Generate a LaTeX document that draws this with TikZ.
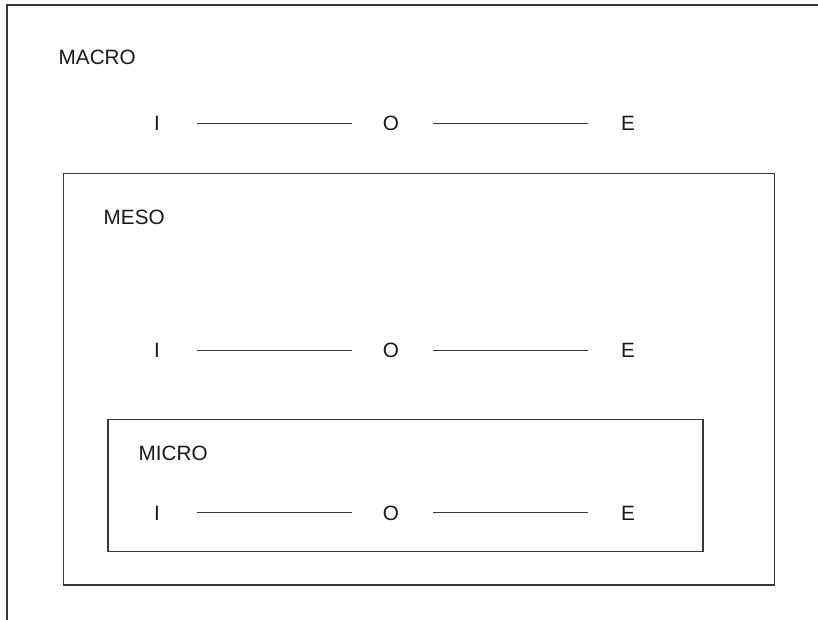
\documentclass[tikz,border=0pt]{standalone}
\usepackage{fontspec}
\setmainfont{Liberation Sans}
\begin{document}
\begin{tikzpicture}[x=1pt,y=-1pt,
  boxline/.style={draw=black!78,line width=1.2pt},
  lvl/.style={inner sep=0pt,anchor=base west,text=black!90,font=\fontsize{20.7}{24}\selectfont},
  ioe/.style={inner sep=0pt,anchor=center,text height=14.8pt,text depth=0pt,text=black!90,font=\fontsize{20.7}{24}\selectfont},
  conn/.style={draw=black!78,line width=1.2pt}]
\useasboundingbox (0,0) rectangle (818,620);
% outer (MACRO) frame, cut by the page
\coordinate (otr) at (818,5);
\coordinate (otl) at (7,5);
\coordinate (obl) at (7,620);
\draw[boxline] (otr) -- (otl) -- (obl);
% MESO and MICRO frames
\node[boxline,inner sep=0pt,minimum width=711.5pt,minimum height=411.6pt,anchor=north west] (meso) at (62.5,172.7) {};
\node[boxline,inner sep=0pt,minimum width=595pt,minimum height=132pt,anchor=north west] (micro) at (107.3,419) {};
% level labels
\node[lvl] (lmacro) at (58.5,65) {MACRO};
\node[lvl] (lmeso) at (103.5,225) {MESO};
\node[lvl] (lmicro) at (138.5,460) {MICRO};
% rows
\foreach \r/\y in {1/123.3,2/350.3,3/512.6}{
  \node[ioe] (i\r) at (157,\y) {I};
  \node[ioe] (o\r) at (391,\y) {O};
  \node[ioe] (e\r) at (628,\y) {E};
  \draw[conn,shorten <=37pt,shorten >=31pt] (i\r.east) -- (o\r.west);
  \draw[conn,shorten <=34pt,shorten >=33pt] (o\r.east) -- (e\r.west);
}
\end{tikzpicture}
\end{document}
